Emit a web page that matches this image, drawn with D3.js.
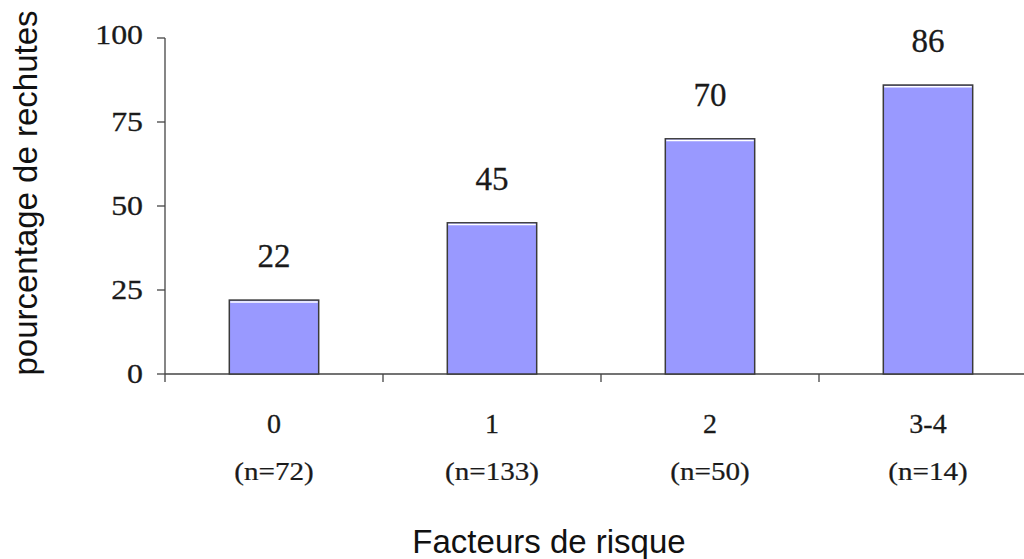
<!DOCTYPE html>
<html>
<head>
<meta charset="utf-8">
<script src="https://cdn.jsdelivr.net/npm/d3@7"></script>
<style>
  body { margin: 0; background: #fff; }
  svg { display: block; }
</style>
</head>
<body>
<div id="chart"></div>
<script>

// data
const categories = ["0", "1", "2", "3-4"];
const counts = ["(n=72)", "(n=133)", "(n=50)", "(n=14)"];
const values = [22, 45, 70, 86];
const yTicks = [0, 25, 50, 75, 100];

// --------------------------------------
//  Margin and canvas
// --------------------------------------

const width = 1024;
const height = 559;
const margin = {top: 38, left: 165, bottom: 185, right: -13};
const innerwidth = width - margin.left - margin.right;
const innerheight = height - margin.top - margin.bottom;

const svg = d3.select("#chart")
  .append("svg")
    .attr("width", width)
    .attr("height", height);

const innerChart = svg
  .append("g")
    .attr("transform", `translate(${margin.left}, ${margin.top})`);

// --------------------------------------
//  Scales
// --------------------------------------

let x = d3.scaleBand()
    .domain(categories)
    .range([0, innerwidth])
    .paddingInner(0.59)
    .paddingOuter(0.295);

// plain band scale for the tick marks between groups
let xStep = d3.scaleBand()
    .domain(categories)
    .range([0, innerwidth]);

let y = d3.scaleLinear()
    .domain([0, 100])
    .range([innerheight, 0]);

const serif = "'Liberation Serif', 'Times New Roman', serif";
const sans = "'Liberation Sans', Arial, sans-serif";
const ink = "#1a1a1a";

// --------------------------------------
//  Axes
// --------------------------------------

// y axis line (runs a little below zero)
innerChart.append("line")
    .attr("x1", 0).attr("x2", 0)
    .attr("y1", y(100)).attr("y2", innerheight + 8)
    .attr("stroke", "#444").attr("stroke-width", 1.3);

innerChart.selectAll(".ytick")
    .data(yTicks)
    .join("line")
    .attr("class", "ytick")
    .attr("x1", -8).attr("x2", 0)
    .attr("y1", d => y(d)).attr("y2", d => y(d))
    .attr("stroke", "#444").attr("stroke-width", 1.3);

// tick labels look a bit wide in the original, stretch them
innerChart.selectAll(".ylabel")
    .data(yTicks)
    .join("text")
    .attr("class", "ylabel")
    .attr("transform", d => `translate(-22, ${y(d) + (d === 100 ? 6 : 9)}) scale(1.18, 1)`)
    .attr("text-anchor", "end")
    .attr("font-family", serif)
    .attr("font-size", 27)
    .attr("fill", ink)
    .attr("stroke", ink).attr("stroke-width", 0.3)
    .text(d => d);

// x axis line
innerChart.append("line")
    .attr("x1", 0).attr("x2", innerwidth)
    .attr("y1", innerheight).attr("y2", innerheight)
    .attr("stroke", "#444").attr("stroke-width", 1.3);

innerChart.selectAll(".xtick")
    .data(categories.slice(1))
    .join("line")
    .attr("class", "xtick")
    .attr("x1", d => xStep(d)).attr("x2", d => xStep(d))
    .attr("y1", innerheight).attr("y2", innerheight + 8)
    .attr("stroke", "#444").attr("stroke-width", 1.3);

// --------------------------------------
//  Bars
// --------------------------------------

innerChart.selectAll(".bar")
    .data(values)
    .join("rect")
    .attr("class", "bar")
    .attr("x", (d, i) => x(categories[i]))
    .attr("y", d => y(d))
    .attr("width", x.bandwidth())
    .attr("height", d => innerheight - y(d))
    .attr("fill", "#9999ff")
    .attr("stroke", "#3a3a3a")
    .attr("stroke-width", 1.5);

// thin white highlight under the top edge
innerChart.selectAll(".shine")
    .data(values)
    .join("line")
    .attr("class", "shine")
    .attr("x1", (d, i) => x(categories[i]) + 1)
    .attr("x2", (d, i) => x(categories[i]) + x.bandwidth() - 1)
    .attr("y1", d => y(d) + 1.8)
    .attr("y2", d => y(d) + 1.8)
    .attr("stroke", "#fff")
    .attr("stroke-width", 1.5);

innerChart.selectAll(".value")
    .data(values)
    .join("text")
    .attr("class", "value")
    .attr("x", (d, i) => x(categories[i]) + x.bandwidth() / 2)
    .attr("y", d => y(d) - 33)
    .attr("text-anchor", "middle")
    .attr("font-family", serif)
    .attr("font-size", 33)
    .attr("fill", ink)
    .attr("stroke", ink).attr("stroke-width", 0.3)
    .text(d => d);

// category and n labels
innerChart.selectAll(".cat")
    .data(categories)
    .join("text")
    .attr("class", "cat")
    .attr("x", d => x(d) + x.bandwidth() / 2)
    .attr("y", innerheight + 59)
    .attr("text-anchor", "middle")
    .attr("font-family", serif)
    .attr("font-size", 28)
    .attr("fill", ink)
    .attr("stroke", ink).attr("stroke-width", 0.3)
    .text(d => d);

innerChart.selectAll(".count")
    .data(counts)
    .join("text")
    .attr("class", "count")
    .attr("transform", (d, i) => `translate(${x(categories[i]) + x.bandwidth() / 2}, ${innerheight + 106}) scale(1.12, 1)`)
    .attr("text-anchor", "middle")
    .attr("font-family", serif)
    .attr("font-size", 26)
    .attr("fill", ink)
    .attr("stroke", ink).attr("stroke-width", 0.25)
    .text(d => d);

// axis titles
svg.append("text")
    .attr("x", 549)
    .attr("y", 553)
    .attr("text-anchor", "middle")
    .attr("font-family", sans)
    .attr("font-size", 33)
    .attr("fill", "#111")
    .text("Facteurs de risque");

svg.append("text")
    .attr("transform", "translate(37, 193) rotate(-90)")
    .attr("text-anchor", "middle")
    .attr("font-family", sans)
    .attr("font-size", 33)
    .attr("fill", "#111")
    .text("pourcentage de rechutes");

</script>
</body>
</html>
